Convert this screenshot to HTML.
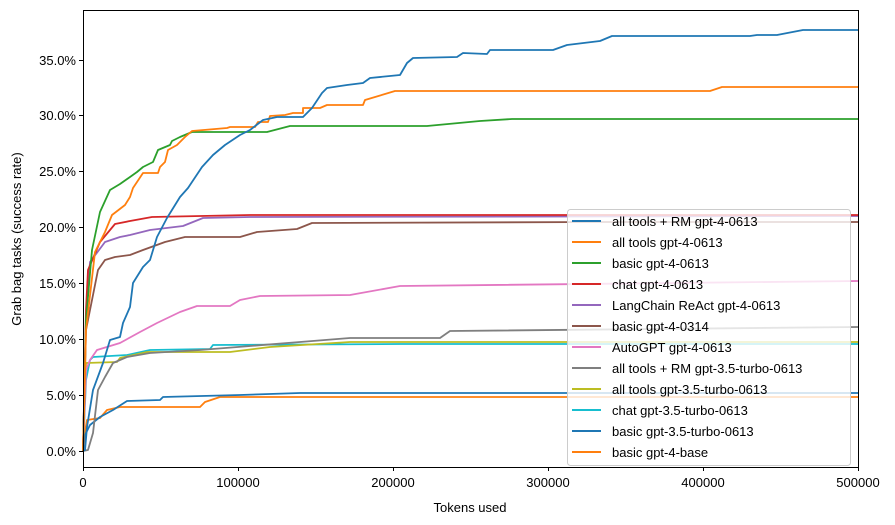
<!DOCTYPE html>
<html><head><style>body{margin:0;background:#fff}svg{display:block;font-family:"Liberation Sans","DejaVu Sans",sans-serif}</style></head><body>
<svg width="895" height="525" viewBox="0 0 895 525" xmlns="http://www.w3.org/2000/svg">
<rect width="895" height="525" fill="#fff"/>
<g fill="none" stroke-width="1.8" stroke-linejoin="round">
<polyline stroke="#ff7f0e" points="83,451 85,432 87,420 100,418 107,410 120,407 200,407 205,402 220,397 858,397"/>
<polyline stroke="#1f77b4" points="83,451 85,435 90,425 100,417 113,410 127,401 160,400 163,397 240,395 300,393 858,393"/>
<polyline stroke="#17becf" points="83,451 86,380 90,360 93,357 127,355 150,350 210,349 213,345 400,344 858,344"/>
<polyline stroke="#bcbd22" points="83,451 86,363 117,362 120,358 147,352 230,352 270,347 350,342 858,342"/>
<polyline stroke="#7f7f7f" points="83,451 88,450 93,433 98,390 105,377 113,363 127,357 150,353 200,350 300,342 350,338 440,338 450,331 858,327"/>
<polyline stroke="#e377c2" points="83,451 86,370 90,360 97,350 120,343 140,332 157,323 180,312 197,306 230,306 240,300 260,296 350,295 400,286 858,281"/>
<polyline stroke="#8c564b" points="83,451 86,330 90,310 98,270 105,260 115,257 130,255 143,250 165,242 185,237 240,237 257,232 297,229 312,223 600,222 858,222"/>
<polyline stroke="#9467bd" points="83,451 86,320 90,262 105,242 120,237 130,235 150,230 183,226 203,218 250,217 858,216"/>
<polyline stroke="#d62728" points="83,451 86,310 88,270 100,242 115,224 130,221 152,217 250,215 858,215"/>
<polyline stroke="#2ca02c" points="83,451 86,320 92,250 100,212 110,190 120,184 130,177 137,172 143,167 153,162 158,150 170,145 172,141 180,137 192,132 267,132 290,126 427,126 480,121 512,119 858,119"/>
<polyline stroke="#ff7f0e" points="83,451 86,330 95,252 105,232 112,215 125,205 130,197 133,188 143,173 158,173 160,167 165,162 168,150 177,145 185,137 192,131 227,128 230,127 255,127 258,122 268,122 270,116 285,115 293,113 303,113 303,108 320,108 327,105 363,105 365,100 395,91 710,91 722,87 858,87"/>
<polyline stroke="#1f77b4" points="83,451 85,450 87,427 93,390 103,363 110,340 120,337 123,323 130,307 133,283 143,267 150,260 157,237 167,218 180,197 188,188 202,167 213,155 225,145 240,135 250,130 263,120 277,117 303,117 312,108 322,93 327,88 347,85 363,83 370,78 400,75 407,63 413,58 457,57 463,53 487,54 490,50 553,50 567,45 600,41 612,36 750,36 757,35 777,35 803,30 858,30"/>
</g>
<rect x="83.5" y="10.5" width="775" height="457" fill="none" stroke="#000" stroke-width="1"/>
<g stroke="#000" stroke-width="1">
<line x1="83.5" y1="467" x2="83.5" y2="471"/><line x1="238.5" y1="467" x2="238.5" y2="471"/><line x1="393.5" y1="467" x2="393.5" y2="471"/><line x1="548.5" y1="467" x2="548.5" y2="471"/><line x1="703.5" y1="467" x2="703.5" y2="471"/><line x1="858.5" y1="467" x2="858.5" y2="471"/>
<line x1="79" y1="451.5" x2="83" y2="451.5"/><line x1="79" y1="395.5" x2="83" y2="395.5"/><line x1="79" y1="339.5" x2="83" y2="339.5"/><line x1="79" y1="283.5" x2="83" y2="283.5"/><line x1="79" y1="227.5" x2="83" y2="227.5"/><line x1="79" y1="171.5" x2="83" y2="171.5"/><line x1="79" y1="115.5" x2="83" y2="115.5"/><line x1="79" y1="60.5" x2="83" y2="60.5"/>
</g>
<g font-size="13" fill="#000">
<g text-anchor="middle"><text x="83" y="487">0</text><text x="238" y="487">100000</text><text x="393" y="487">200000</text><text x="548" y="487">300000</text><text x="703" y="487">400000</text><text x="858" y="487">500000</text>
<text x="470" y="512">Tokens used</text></g>
<g text-anchor="end"><text x="76" y="456">0.0%</text><text x="76" y="400">5.0%</text><text x="76" y="344">10.0%</text><text x="76" y="288">15.0%</text><text x="76" y="232">20.0%</text><text x="76" y="176">25.0%</text><text x="76" y="120">30.0%</text><text x="76" y="65">35.0%</text></g>
<text transform="translate(21,239) rotate(-90)" text-anchor="middle">Grab bag tasks (success rate)</text>
</g>
<rect x="567.5" y="209.5" width="283" height="256" rx="3" fill="#fff" fill-opacity="0.8" stroke="#ccc"/>
<g stroke-width="2">
<line x1="572" x2="601" y1="221" y2="221" stroke="#1f77b4"/>
<line x1="572" x2="601" y1="242" y2="242" stroke="#ff7f0e"/>
<line x1="572" x2="601" y1="263" y2="263" stroke="#2ca02c"/>
<line x1="572" x2="601" y1="284" y2="284" stroke="#d62728"/>
<line x1="572" x2="601" y1="305" y2="305" stroke="#9467bd"/>
<line x1="572" x2="601" y1="326" y2="326" stroke="#8c564b"/>
<line x1="572" x2="601" y1="347" y2="347" stroke="#e377c2"/>
<line x1="572" x2="601" y1="368" y2="368" stroke="#7f7f7f"/>
<line x1="572" x2="601" y1="389" y2="389" stroke="#bcbd22"/>
<line x1="572" x2="601" y1="410" y2="410" stroke="#17becf"/>
<line x1="572" x2="601" y1="431" y2="431" stroke="#1f77b4"/>
<line x1="572" x2="601" y1="452" y2="452" stroke="#ff7f0e"/>
</g>
<g font-size="13" fill="#000">
<text x="612" y="226">all tools + RM gpt-4-0613</text>
<text x="612" y="247">all tools gpt-4-0613</text>
<text x="612" y="268">basic gpt-4-0613</text>
<text x="612" y="289">chat gpt-4-0613</text>
<text x="612" y="310">LangChain ReAct gpt-4-0613</text>
<text x="612" y="331">basic gpt-4-0314</text>
<text x="612" y="352">AutoGPT gpt-4-0613</text>
<text x="612" y="373">all tools + RM gpt-3.5-turbo-0613</text>
<text x="612" y="394">all tools gpt-3.5-turbo-0613</text>
<text x="612" y="415">chat gpt-3.5-turbo-0613</text>
<text x="612" y="436">basic gpt-3.5-turbo-0613</text>
<text x="612" y="457">basic gpt-4-base</text>
</g>
</svg>
</body></html>
